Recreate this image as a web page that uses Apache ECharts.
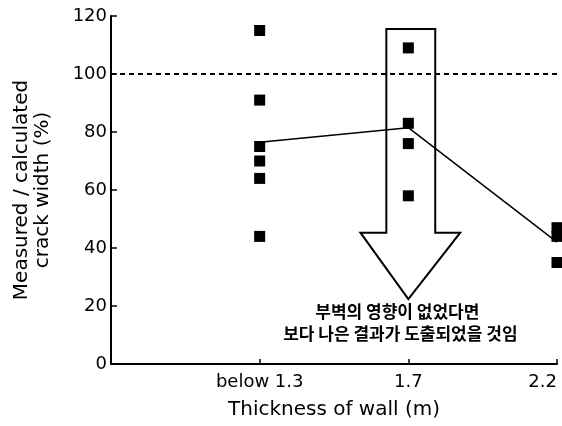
<!DOCTYPE html>
<html>
<head>
<meta charset="utf-8">
<script src="https://cdn.jsdelivr.net/npm/echarts@6/dist/echarts.min.js"></script>
<style>html,body{margin:0;padding:0;background:#fff;}#c{width:562px;height:426px;}</style>
</head>
<body>
<div id="c"></div>
<script>
// Categories along the x axis (index positions 0,1,2)
var categories = ['below 1.3', '1.7', '2.2'];
// Measured / calculated crack width (%) for each wall thickness group
var below13 = [115, 91, 75, 70, 64, 44];
var t17 = [109, 83, 76, 58];
var t22 = [47, 44, 35];
// Mean line values
var meanValues = [76.5, 81.5, 42];
// Reference line
var refValue = 100;
// Y ticks
var yTicks = [0, 20, 40, 60, 80, 100, 120];
// Annotation text
var noteLines = ['부벽의 영향이 없었다면', '보다 나은 결과가 도출되었을 것임'];

var groups = [below13, t17, t22];
var scatterData = [];
groups.forEach(function (g, i) { g.forEach(function (v) { scatterData.push([i, v]); }); });
var meanData = meanValues.map(function (v, i) { return [i, v]; });

var chart = echarts.init(document.getElementById('c'), null, {renderer: 'canvas'});
var font = 'DejaVu Sans, sans-serif';

chart.setOption({
  animation: false,
  backgroundColor: '#fff',
  grid: {left: 111, right: 5, top: 16, bottom: 62, containLabel: false, outerBoundsMode: 'none'},
  xAxis: {
    type: 'value', min: -1, max: 2, interval: 1,
    name: 'Thickness of wall (m)', nameLocation: 'middle', nameGap: 36,
    nameTextStyle: {fontFamily: font, fontSize: 20, color: '#000'},
    axisLine: {lineStyle: {color: '#000', width: 2}},
    axisTick: {inside: true, length: 5, lineStyle: {color: '#000', width: 1.5}},
    axisLabel: {fontFamily: font, fontSize: 18, color: '#000', margin: 9, alignMaxLabel: 'right',
      formatter: function (v) { return v >= 0 ? categories[v] : ''; }},
    splitLine: {show: false}
  },
  yAxis: {
    type: 'value', min: yTicks[0], max: yTicks[yTicks.length - 1], interval: 20,
    name: 'Measured / calculated\ncrack width (%)', nameLocation: 'middle', nameGap: 58,
    nameTextStyle: {fontFamily: font, fontSize: 20, color: '#000', lineHeight: 21},
    axisLine: {onZero: false, lineStyle: {color: '#000', width: 2}},
    axisTick: {inside: true, length: 6, lineStyle: {color: '#000', width: 1.5}},
    axisLabel: {fontFamily: font, fontSize: 18, color: '#000', margin: 4},
    splitLine: {show: false}
  },
  series: [
    {
      type: 'custom', z: 1, silent: true,
      data: [[1, refValue]],
      renderItem: function (params, api) {
        var x = 1;
        var p = function (dx, y) { return api.coord([x + dx, y]); };
        var pts = [p(-0.148, 115.5), p(0.181, 115.5), p(0.181, 45.3), p(0.349, 45.3),
                   p(0, 22.4), p(-0.322, 45.3), p(-0.148, 45.3)];
        return {type: 'polygon', shape: {points: pts},
          style: {fill: 'none', stroke: '#000', lineWidth: 2}};
      }
    },
    {
      type: 'line', data: meanData, symbol: 'none', z: 2,
      lineStyle: {color: '#000', width: 1.5},
      markLine: {
        symbol: 'none', silent: true, label: {show: false},
        lineStyle: {color: '#000', width: 2, type: [5, 4]},
        data: [{yAxis: refValue}]
      }
    },
    {
      type: 'scatter', data: scatterData, symbol: 'rect', symbolSize: 11, z: 3,
      itemStyle: {color: '#000', opacity: 1}
    }
  ]
});

var noteFont = 'Noto Sans CJK KR';
var c1 = chart.convertToPixel({gridIndex: 0}, [1, 18]);
var c2 = chart.convertToPixel({gridIndex: 0}, [1, 10.5]);
chart.setOption({
  graphic: [
    {type: 'text', x: c1[0] - 11, y: c1[1], style: {text: noteLines[0], fontFamily: noteFont, fontWeight: 'bold', fontSize: 17, fill: '#000', align: 'center', verticalAlign: 'middle'}},
    {type: 'text', x: c2[0] - 8, y: c2[1], style: {text: noteLines[1], fontFamily: noteFont, fontWeight: 'bold', fontSize: 17, fill: '#000', align: 'center', verticalAlign: 'middle'}}
  ]
});
</script>
</body>
</html>
